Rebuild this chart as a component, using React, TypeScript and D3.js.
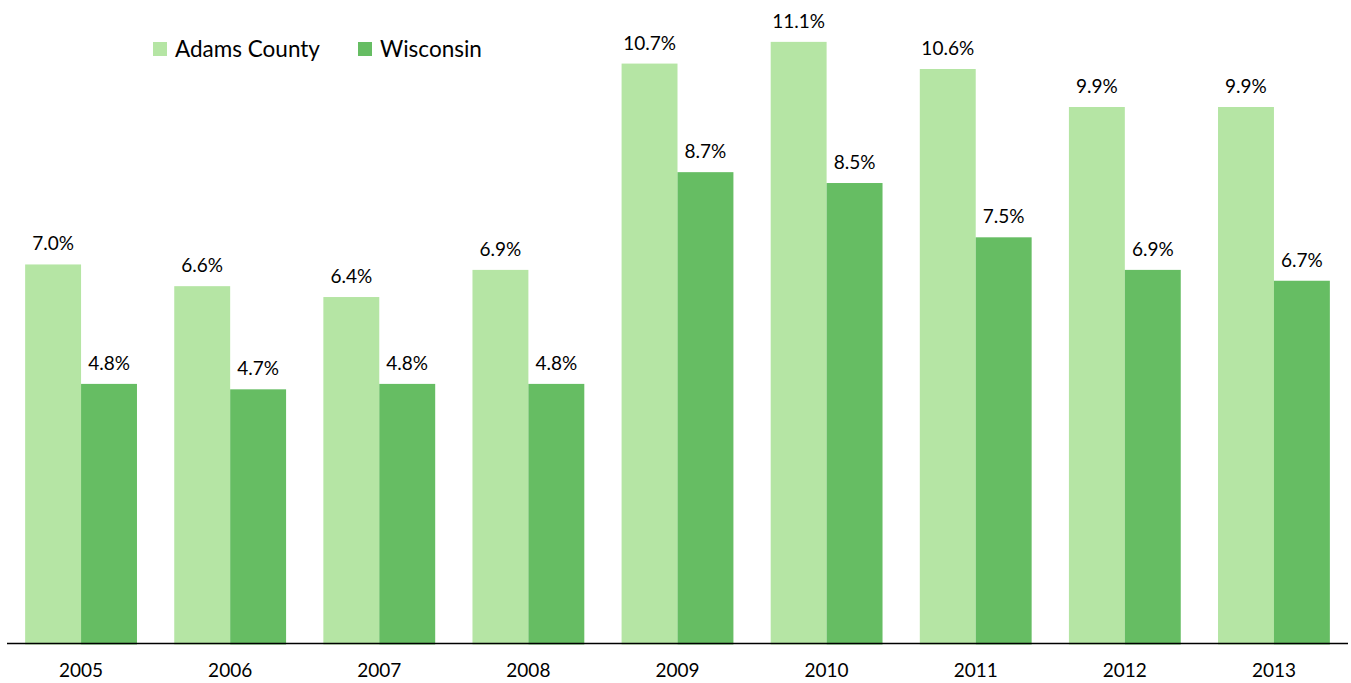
import React from "react";
import * as d3 from "d3";

const years = ["2005", "2006", "2007", "2008", "2009", "2010", "2011", "2012", "2013"];
const adamsCounty = [7.0, 6.6, 6.4, 6.9, 10.7, 11.1, 10.6, 9.9, 9.9];
const wisconsin = [4.8, 4.7, 4.8, 4.8, 8.7, 8.5, 7.5, 6.9, 6.7];
const seriesNames = ["Adams County", "Wisconsin"];
const seriesColors = ["#b5e5a4", "#66bd63"];

const W = 1351;
const H = 683;
const FONT = "Lato, 'Open Sans', sans-serif";

export default function App() {
  const x0 = d3.scaleBand<string>().domain(years).range([6.5, 1348.5]).paddingInner(0.25).paddingOuter(0.125);
  const x1 = d3.scaleBand<number>().domain([0, 1]).range([0, x0.bandwidth()]);
  const y = d3.scaleLinear().domain([0, 12]).range([644.5, -7]);
  const series = [adamsCounty, wisconsin];

  return (
    <svg width={W} height={H} style={{ position: "absolute", left: 0, top: 0, background: "#fff" }}>
      {years.map((yr, i) => (
        <g key={yr}>
          {series.map((s, k) => {
            const bx = (x0(yr) as number) + (x1(k) as number);
            const by = y(s[i]);
            return (
              <g key={k}>
                <rect x={bx} y={by} width={x1.bandwidth()} height={y(0) - by} fill={seriesColors[k]} />
                <text x={bx + x1.bandwidth() / 2} y={by - 14} textAnchor="middle" fontFamily={FONT} fontSize={19} fill="#000">
                  {s[i].toFixed(1) + "%"}
                </text>
              </g>
            );
          })}
          <text x={(x0(yr) as number) + x0.bandwidth() / 2} y={677} textAnchor="middle" fontFamily={FONT} fontSize={19} fill="#000">
            {yr}
          </text>
        </g>
      ))}
      <line x1={7} x2={1348} y1={643.5} y2={643.5} stroke="#000" strokeWidth={1.3} />
      {seriesNames.map((n, k) => {
        const lx = [153, 358][k];
        return (
          <g key={n}>
            <rect x={lx} y={42} width={14} height={14} fill={seriesColors[k]} />
            <text x={lx + 22} y={57} fontFamily={FONT} fontSize={22.5} fill="#000">{n}</text>
          </g>
        );
      })}
    </svg>
  );
}
